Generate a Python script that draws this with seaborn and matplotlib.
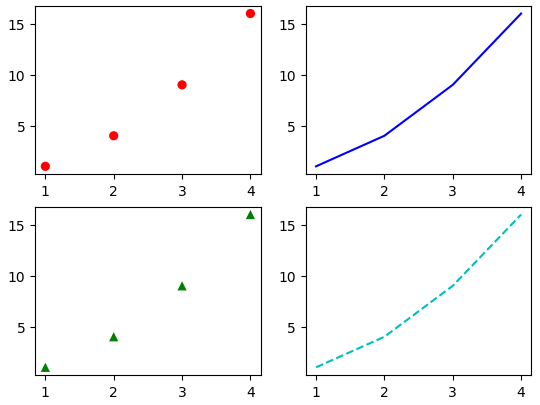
import numpy as np
import pandas as pd
from matplotlib import pyplot as plt
import seaborn as sns

# values
x_vals = [1, 2, 3, 4]
y_vals = [1, 4, 9, 16]

df = pd.DataFrame({'x': x_vals, 'y': y_vals})

fig, axes = plt.subplots(2, 2, figsize=(5.4, 4.06), dpi=100)

sns.scatterplot(x='x', y='y', data=df, ax=axes[0, 0], color='r', marker='o',
                s=44, edgecolor='none')
sns.lineplot(x='x', y='y', data=df, ax=axes[0, 1], color='b')
sns.scatterplot(x='x', y='y', data=df, ax=axes[1, 0], color='g', marker='^',
                s=44, edgecolor='none')
sns.lineplot(x='x', y='y', data=df, ax=axes[1, 1], color='c', linestyle='--')

for ax in axes.flat:
    ax.set_xlabel('')
    ax.set_ylabel('')
    ax.set_xticks(x_vals)
    ax.set_yticks([5, 10, 15])

plt.subplots_adjust(left=0.065, right=0.984, top=0.983, bottom=0.074,
                    hspace=0.196, wspace=0.2)
plt.savefig('out.png')
